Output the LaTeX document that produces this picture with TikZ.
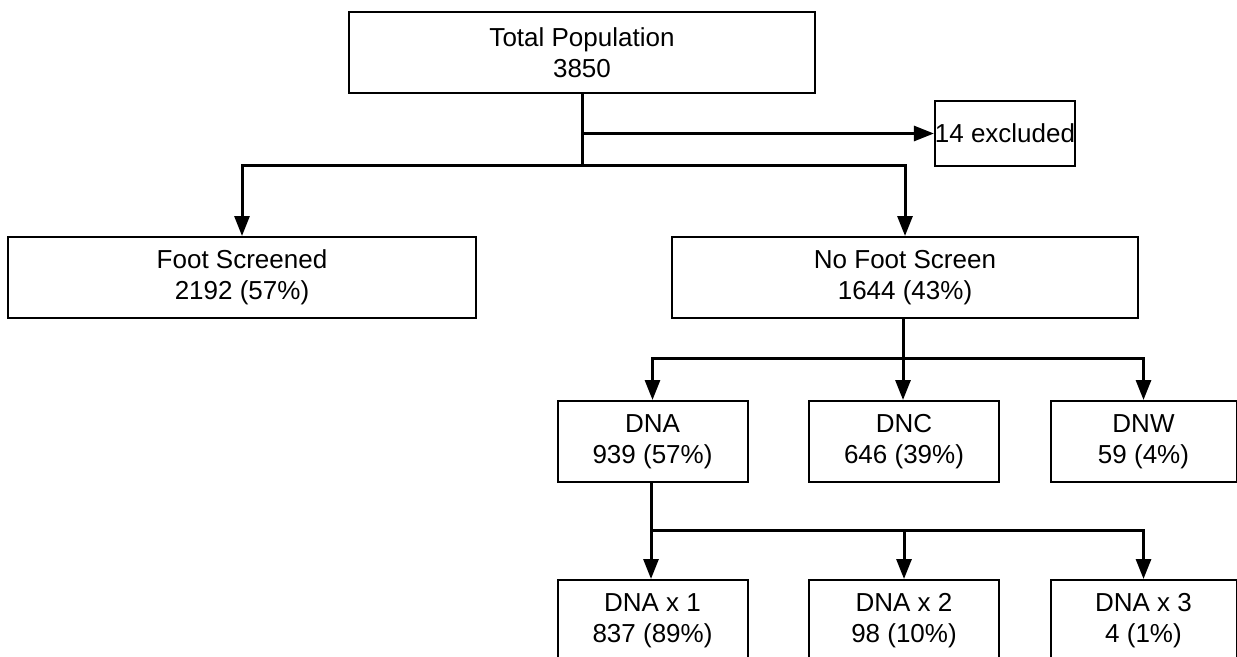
\documentclass[tikz,border=0pt]{standalone}
\usepackage{fontspec}
\setmainfont{Liberation Sans}
\usetikzlibrary{arrows.meta}
\begin{document}
\begin{tikzpicture}[x=1pt,y=-1pt,
  box/.style={draw=black, line width=2pt, rectangle, align=center, inner sep=0pt,
    font=\fontsize{26}{31}\selectfont, minimum height=81pt},
  bigbox/.style={box, minimum width=466pt},
  smallbox/.style={box, minimum width=190pt},
  conn/.style={line width=3pt},
  arr/.style={conn, -{Triangle[length=20pt,width=15pt]}}]
\useasboundingbox (0,0) rectangle (1237,656);
\node[bigbox] (tot) at (582,52.5) {Total Population\\3850};
\node[box, minimum width=140pt, minimum height=65pt] (exc) at (1005,133.5) {14 excluded};
\node[bigbox, minimum width=468pt] (foot) at (242,277.5) {Foot Screened\\2192 (57\%)};
\node[bigbox] (nofoot) at (905,277.5) {No Foot Screen\\1644 (43\%)};
\node[smallbox] (dna) at (652.5,441.5) {DNA\\939 (57\%)};
\node[smallbox] (dnc) at (904,441.5) {DNC\\646 (39\%)};
\node[smallbox, minimum width=186pt] (dnw) at (1143.5,441.5) {DNW\\59 (4\%)};
\node[smallbox] (d1) at (652.5,620.5) {DNA x 1\\837 (89\%)};
\node[smallbox] (d2) at (904,620.5) {DNA x 2\\98 (10\%)};
\node[smallbox, minimum width=186pt] (d3) at (1143.5,620.5) {DNA x 3\\4 (1\%)};
\coordinate (j0) at (582,133.5);
\coordinate (j1) at (582,165);
\coordinate (j2) at (903,358);
\coordinate (j3) at (651,530);
\draw[conn] (tot.south) -- (j1);
\draw[arr] (j0) -- (exc.west);
\draw[arr] (j1) -| (foot.north);
\draw[arr] (j1) -| (nofoot.north);
\draw[conn] (nofoot.south -| j2) -- (j2);
\draw[arr] (j2) -| (dna.north);
\draw[arr] (j2) -- (dnc.north -| j2);
\draw[arr] (j2) -| (dnw.north);
\draw[conn] (dna.south -| j3) -- (j3);
\draw[arr] (j3) -- (d1.north -| j3);
\draw[arr] (j3) -| (d2.north);
\draw[arr] (j3) -| (d3.north);
\end{tikzpicture}
\end{document}
